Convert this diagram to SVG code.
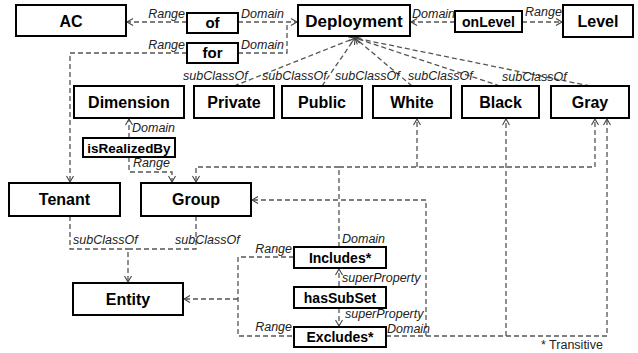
<svg xmlns="http://www.w3.org/2000/svg" width="638" height="353" viewBox="0 0 638 353">
<style>
.box{fill:#fff;stroke:#000;stroke-width:2}
.nt{font-family:"Liberation Sans",Arial,sans-serif;font-weight:bold;font-size:16px;text-anchor:middle;fill:#000}
.st{font-size:14px}
.c{fill:none;stroke:#555;stroke-width:1.3;stroke-dasharray:5 3}
.lb{font-family:"Liberation Sans",Arial,sans-serif;font-style:italic;font-size:12.5px;fill:#222}
.r{text-anchor:end}
</style>
<defs>
<marker id="a" viewBox="-8 -5 9 10" refX="0" refY="0" markerWidth="9" markerHeight="10" markerUnits="userSpaceOnUse" orient="auto">
<path d="M-6,-3.5 L0,0 L-6,3.5" fill="none" stroke="#444" stroke-width="1.1" stroke-dasharray="none"/>
</marker>
</defs>
<rect width="638" height="353" fill="#fff"/>
<g id="connectors">
<path class="c" d="M187,22 H127" marker-end="url(#a)"/>
<path class="c" d="M238,22 H297" marker-end="url(#a)"/>
<path class="c" d="M238,53 H287 V22"/>
<path class="c" d="M187,53 H70 V182" marker-end="url(#a)"/>
<path class="c" d="M455,22 H411" marker-end="url(#a)"/>
<path class="c" d="M522,22 H562" marker-end="url(#a)"/>
<path class="c" d="M234,86 L355,38" marker-end="url(#a)"/>
<path class="c" d="M322,86 L355,38" marker-end="url(#a)"/>
<path class="c" d="M412,86 L355,38" marker-end="url(#a)"/>
<path class="c" d="M500,86 L355,38" marker-end="url(#a)"/>
<path class="c" d="M590,86 L355,38" marker-end="url(#a)"/>
<path class="c" d="M129,138 V119" marker-end="url(#a)"/>
<path class="c" d="M129,157 V172 H172 V182" marker-end="url(#a)"/>
<path class="c" d="M339,247 V167 H196 V182" marker-end="url(#a)"/>
<path class="c" d="M339,167 H595 V119" marker-end="url(#a)"/>
<path class="c" d="M417,167 V119" marker-end="url(#a)"/>
<path class="c" d="M386,336 H607 V119" marker-end="url(#a)"/>
<path class="c" d="M426,336 V200 H252" marker-end="url(#a)"/>
<path class="c" d="M506,336 V119" marker-end="url(#a)"/>
<path class="c" d="M294,257 H238 V336 H294"/>
<path class="c" d="M238,299 H184" marker-end="url(#a)"/>
<path class="c" d="M339,286 V269" marker-end="url(#a)"/>
<path class="c" d="M339,308 V326" marker-end="url(#a)"/>
<path class="c" d="M70,216 V249 H128"/>
<path class="c" d="M196,216 V249 H128 V282" marker-end="url(#a)"/>
<text class="lb r" x="185" y="18">Range</text>
<text class="lb" x="241" y="18">Domain</text>
<text class="lb r" x="185" y="49">Range</text>
<text class="lb" x="241" y="49">Domain</text>
<text class="lb" x="412" y="18">Domain</text>
<text class="lb" x="525" y="16">Range</text>
<text class="lb" x="183" y="80">subClassOf</text>
<text class="lb" x="262" y="80">subClassOf</text>
<text class="lb" x="335" y="80">subClassOf</text>
<text class="lb" x="408" y="80">subClassOf</text>
<text class="lb" x="502" y="81">subClassOf</text>
<text class="lb" x="132" y="132">Domain</text>
<text class="lb" x="133" y="167">Range</text>
<text class="lb" x="342" y="243">Domain</text>
<text class="lb" x="387" y="333">Domain</text>
<text class="lb r" x="292" y="253">Range</text>
<text class="lb r" x="292" y="331">Range</text>
<text class="lb" x="342" y="282">superProperty</text>
<text class="lb" x="345" y="318">superProperty</text>
<text class="lb" x="73" y="244">subClassOf</text>
<text class="lb" x="175" y="244">subClassOf</text>
</g>
<g id="AC"><rect class="box" x="16" y="5" width="110" height="31"/><text class="nt" x="71" y="26.5">AC</text></g>
<g id="of"><rect class="box" x="187" y="13" width="51" height="20"/><text class="nt" x="212.5" y="28" style="font-size:15px">of</text></g>
<g id="for"><rect class="box" x="187" y="43" width="51" height="20"/><text class="nt" x="212.5" y="58" style="font-size:15px">for</text></g>
<g id="Deployment"><rect class="box" x="298" y="5" width="112" height="31"/><text class="nt" x="354" y="26.5" style="font-size:17px">Deployment</text></g>
<g id="onLevel"><rect class="box" x="455" y="11" width="67" height="21"/><text class="nt st" x="488.5" y="26.5">onLevel</text></g>
<g id="Level"><rect class="box" x="563" y="5" width="70" height="32"/><text class="nt" x="598" y="27">Level</text></g>
<g id="Dimension"><rect class="box" x="74" y="86" width="110" height="32"/><text class="nt" x="129" y="107.5">Dimension</text></g>
<g id="Private"><rect class="box" x="194" y="86" width="80" height="32"/><text class="nt" x="234" y="107.5">Private</text></g>
<g id="Public"><rect class="box" x="282" y="86" width="80" height="32"/><text class="nt" x="322" y="107.5">Public</text></g>
<g id="White"><rect class="box" x="373" y="86" width="78" height="32"/><text class="nt" x="412" y="107.5">White</text></g>
<g id="Black"><rect class="box" x="462" y="86" width="77" height="32"/><text class="nt" x="500.5" y="107.5">Black</text></g>
<g id="Gray"><rect class="box" x="551" y="86" width="78" height="32"/><text class="nt" x="590" y="107.5">Gray</text></g>
<g id="isRealizedBy"><rect class="box" x="83" y="138" width="92" height="19"/><text class="nt st" x="129" y="152.5" style="font-size:13.5px">isRealizedBy</text></g>
<g id="Tenant"><rect class="box" x="9" y="183" width="111" height="33"/><text class="nt" x="64.5" y="205">Tenant</text></g>
<g id="Group"><rect class="box" x="141" y="183" width="110" height="33"/><text class="nt" x="196" y="205">Group</text></g>
<g id="Entity"><rect class="box" x="73" y="283" width="110" height="32"/><text class="nt" x="128" y="304.5">Entity</text></g>
<g id="Includes"><rect class="box" x="294" y="247" width="92" height="21"/><text class="nt st" x="340" y="262.5">Includes*</text></g>
<g id="hasSubSet"><rect class="box" x="294" y="287" width="92" height="21"/><text class="nt st" x="340" y="302.5">hasSubSet</text></g>
<g id="Excludes"><rect class="box" x="294" y="327" width="92" height="20"/><text class="nt st" x="340" y="342">Excludes*</text></g>
<text x="541" y="349" style="font-family:'Liberation Sans',Arial,sans-serif;font-size:12.5px;fill:#222">* Transitive</text>
</svg>
